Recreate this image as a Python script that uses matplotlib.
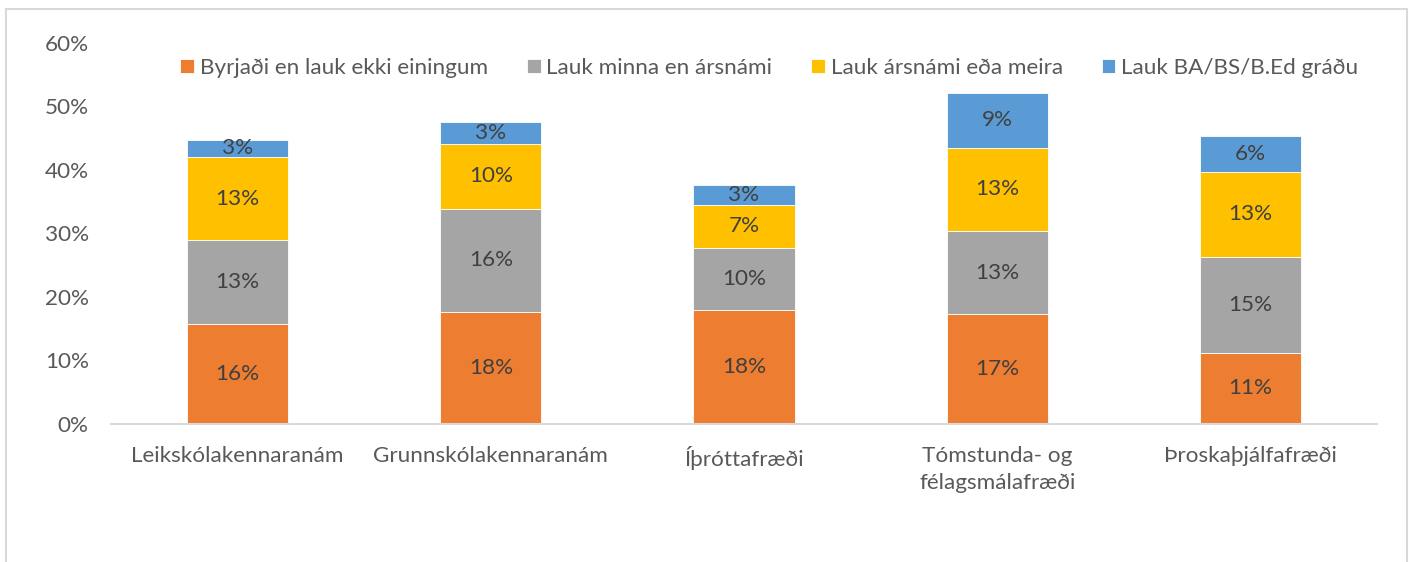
import numpy as np
import matplotlib.pyplot as plt
from matplotlib.patches import Rectangle
from matplotlib.ticker import PercentFormatter

plt.rcParams['font.family'] = ['Lato', 'DejaVu Sans']

# Data (shares of students)
categories = ["Leikskólakennaranám", "Grunnskólakennaranám", "Íþróttafræði",
              "Tómstunda- og\nfélagsmálafræði", "Þroskaþjálfafræði"]
series_names = ["Byrjaði en lauk ekki einingum", "Lauk minna en ársnámi",
                "Lauk ársnámi eða meira", "Lauk BA/BS/B.Ed gráðu"]
byrjadi = [0.1575, 0.177, 0.1795, 0.173, 0.112]
minna = [0.132, 0.162, 0.098, 0.131, 0.151]
arsnam = [0.131, 0.102, 0.067, 0.131, 0.134]
gradu = [0.0267, 0.034, 0.0326, 0.0866, 0.0567]
colors = ["#ED7D31", "#A5A5A5", "#FFC000", "#5B9BD5"]

fs = 16.2

fig = plt.figure(figsize=(14.11, 5.62), dpi=100)
ax = fig.add_axes([0.0787, 0.2456, 0.8972, 0.6779])

x = np.arange(len(categories))
bottom = np.zeros(len(categories))
for vals, name, col in zip([byrjadi, minna, arsnam, gradu], series_names, colors):
    bars = ax.bar(x, vals, 0.4, bottom=bottom, color=col, label=name,
                  edgecolor="white", linewidth=0.6)
    ax.bar_label(bars, labels=[f"{v*100:.0f}%" for v in vals], label_type="center",
                 color="#404040", fontsize=fs)
    bottom += np.array(vals)

ax.set_xlim(-0.5, 4.5)
ax.set_ylim(0, 0.6)
ax.set_yticks(np.arange(0, 0.61, 0.1))
ax.yaxis.set_major_formatter(PercentFormatter(1.0, decimals=0))
ax.set_xticks(x)
ax.set_xticklabels(categories, linespacing=1.45)
ax.tick_params(axis="y", length=0, pad=16, labelsize=fs, labelcolor="#595959")
ax.tick_params(axis="x", length=0, pad=16, labelsize=fs, labelcolor="#595959")
for s in ["top", "right", "left"]:
    ax.spines[s].set_visible(False)
ax.spines["bottom"].set_color("#D9D9D9")
ax.spines["bottom"].set_linewidth(1.5)

ax.legend(loc="center", bbox_to_anchor=(0.52, 0.935), ncol=4, frameon=False,
          fontsize=fs, labelcolor="#595959", handlelength=0.62, handleheight=0.62,
          handletextpad=0.25, columnspacing=1.72)

# outer chart border
fig.patches.append(Rectangle((0.004, -0.05), 0.993, 1.034, transform=fig.transFigure,
                             fill=False, edgecolor="#D9D9D9", linewidth=1.5))

fig.savefig("out.png", dpi=100)
